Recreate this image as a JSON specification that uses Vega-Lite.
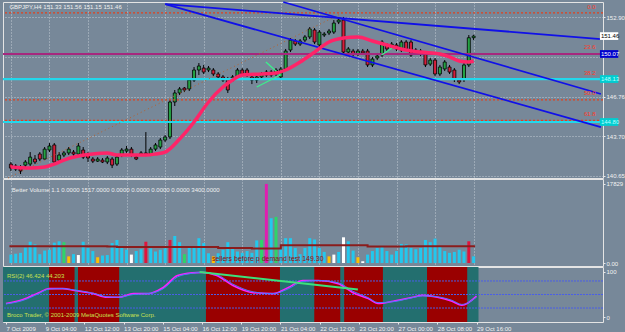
{
  "$schema": "https://vega.github.io/schema/vega-lite/v6.json",
  "background": "#778899",
  "padding": {"left": 1, "top": 0, "right": 0, "bottom": 0},
  "spacing": 1,
  "bounds": "flush",
  "resolve": {"scale": {"color": "independent"}},
  "config": {
    "font": "Liberation Sans",
    "view": {"stroke": "#e4e4e4", "strokeWidth": 1, "fill": "#778899"},
    "axis": {"labelFont": "Liberation Sans", "labelFontSize": 6, "labelColor": "#f2f2f2", "gridColor": "#d6dce2", "gridDash": [1, 2], "gridOpacity": 0.8, "domain": false, "tickColor": "#e8e8e8", "tickSize": 2, "labelPadding": 1, "title": null}
  },
  "datasets": {
    "candles": [
      {"i":0,"o":141.54,"h":141.70,"l":141.00,"c":141.23},{"i":1,"o":141.15,"h":141.54,"l":141.00,"c":141.39},{"i":2,"o":141.31,"h":141.46,"l":140.77,"c":141.00},{"i":3,"o":141.46,"h":141.85,"l":141.31,"c":141.70},{"i":4,"o":141.54,"h":142.47,"l":141.39,"c":142.08},{"i":5,"o":141.93,"h":142.24,"l":141.54,"c":141.70},{"i":6,"o":142.32,"h":142.47,"l":141.77,"c":141.93},{"i":7,"o":141.93,"h":142.86,"l":141.85,"c":142.70},{"i":8,"o":142.63,"h":143.17,"l":142.47,"c":142.94},{"i":9,"o":143.02,"h":143.17,"l":141.62,"c":141.70},
      {"i":10,"o":141.85,"h":142.47,"l":141.70,"c":142.24},{"i":11,"o":142.24,"h":142.55,"l":142.08,"c":142.40},{"i":12,"o":142.40,"h":142.86,"l":142.24,"c":142.70},{"i":13,"o":142.47,"h":142.63,"l":142.08,"c":142.32},{"i":14,"o":142.32,"h":143.17,"l":142.16,"c":142.94},{"i":15,"o":142.63,"h":142.86,"l":141.93,"c":142.08},{"i":16,"o":142.32,"h":142.47,"l":141.70,"c":142.01},{"i":17,"o":141.93,"h":142.08,"l":141.62,"c":141.77},{"i":18,"o":141.77,"h":142.08,"l":141.70,"c":141.93},{"i":19,"o":141.85,"h":142.01,"l":141.62,"c":141.70},
      {"i":20,"o":141.70,"h":142.16,"l":141.54,"c":142.01},{"i":21,"o":141.93,"h":142.08,"l":141.23,"c":141.46},{"i":22,"o":141.54,"h":142.24,"l":141.39,"c":142.08},{"i":23,"o":142.24,"h":142.78,"l":142.08,"c":142.63},{"i":24,"o":142.55,"h":142.94,"l":142.40,"c":142.70},{"i":25,"o":142.70,"h":142.86,"l":142.08,"c":142.24},{"i":26,"o":142.08,"h":142.24,"l":141.85,"c":141.93},{"i":27,"o":142.32,"h":142.55,"l":142.24,"c":142.40},{"i":28,"o":142.40,"h":144.02,"l":142.16,"c":142.32},{"i":29,"o":142.32,"h":142.86,"l":142.16,"c":142.70},
      {"i":30,"o":142.70,"h":143.17,"l":142.55,"c":143.02},{"i":31,"o":142.86,"h":143.56,"l":142.70,"c":143.40},{"i":32,"o":143.40,"h":143.79,"l":143.25,"c":143.64},{"i":33,"o":143.64,"h":146.50,"l":143.48,"c":146.35},{"i":34,"o":146.35,"h":147.28,"l":146.04,"c":147.05},{"i":35,"o":147.05,"h":147.51,"l":146.89,"c":147.36},{"i":36,"o":147.43,"h":147.51,"l":147.12,"c":147.28},{"i":37,"o":147.36,"h":148.21,"l":147.20,"c":148.05},{"i":38,"o":148.05,"h":149.06,"l":147.90,"c":148.83},{"i":39,"o":148.83,"h":149.37,"l":148.44,"c":149.14},
      {"i":40,"o":148.98,"h":149.22,"l":148.52,"c":148.67},{"i":41,"o":148.83,"h":149.14,"l":148.67,"c":148.98},{"i":42,"o":148.83,"h":148.98,"l":148.36,"c":148.52},{"i":43,"o":148.52,"h":148.67,"l":148.13,"c":148.29},{"i":44,"o":148.29,"h":148.44,"l":147.90,"c":148.05},{"i":45,"o":148.13,"h":148.29,"l":147.05,"c":147.28},{"i":46,"o":148.05,"h":148.44,"l":147.90,"c":148.29},{"i":47,"o":148.29,"h":148.98,"l":148.13,"c":148.83},{"i":48,"o":148.83,"h":148.98,"l":148.36,"c":148.52},{"i":49,"o":148.83,"h":148.98,"l":148.29,"c":148.52},
      {"i":50,"o":148.29,"h":148.44,"l":147.74,"c":148.05},{"i":51,"o":148.05,"h":148.44,"l":147.82,"c":148.29},{"i":52,"o":148.29,"h":148.67,"l":148.13,"c":148.52},{"i":53,"o":148.67,"h":148.83,"l":148.29,"c":148.44},{"i":54,"o":148.44,"h":148.83,"l":148.29,"c":148.67},{"i":55,"o":148.52,"h":148.98,"l":148.36,"c":148.83},{"i":56,"o":148.29,"h":149.06,"l":148.13,"c":148.91},{"i":57,"o":148.91,"h":150.46,"l":148.75,"c":150.30},{"i":58,"o":150.38,"h":151.31,"l":150.22,"c":151.15},{"i":59,"o":151.08,"h":151.23,"l":150.69,"c":150.84},
      {"i":60,"o":150.84,"h":151.23,"l":150.69,"c":151.08},{"i":61,"o":151.15,"h":151.54,"l":151.00,"c":151.39},{"i":62,"o":151.39,"h":152.16,"l":151.23,"c":152.01},{"i":63,"o":151.93,"h":152.08,"l":150.84,"c":151.00},{"i":64,"o":150.77,"h":151.93,"l":150.61,"c":151.77},{"i":65,"o":151.54,"h":151.77,"l":151.39,"c":151.62},{"i":66,"o":151.70,"h":152.01,"l":151.54,"c":151.85},{"i":67,"o":151.77,"h":152.70,"l":151.62,"c":152.47},{"i":68,"o":152.55,"h":152.94,"l":152.39,"c":152.70},{"i":69,"o":152.70,"h":152.94,"l":150.07,"c":150.22},
      {"i":70,"o":150.22,"h":150.61,"l":150.07,"c":150.46},{"i":71,"o":150.30,"h":150.46,"l":149.91,"c":150.07},{"i":72,"o":150.07,"h":150.46,"l":149.91,"c":150.30},{"i":73,"o":150.30,"h":150.46,"l":149.99,"c":150.15},{"i":74,"o":150.30,"h":150.46,"l":149.06,"c":149.22},{"i":75,"o":149.22,"h":149.84,"l":149.06,"c":149.68},{"i":76,"o":149.76,"h":150.15,"l":149.60,"c":149.91},{"i":77,"o":149.99,"h":151.15,"l":149.84,"c":151.00},{"i":78,"o":150.77,"h":150.92,"l":150.30,"c":150.46},{"i":79,"o":150.61,"h":151.00,"l":150.46,"c":150.84},
      {"i":80,"o":150.77,"h":150.92,"l":150.30,"c":150.46},{"i":81,"o":150.38,"h":151.15,"l":150.22,"c":151.00},{"i":82,"o":151.00,"h":151.15,"l":150.30,"c":150.46},{"i":83,"o":151.00,"h":151.15,"l":149.84,"c":149.99},{"i":84,"o":150.22,"h":150.53,"l":150.07,"c":150.38},{"i":85,"o":150.30,"h":150.46,"l":149.91,"c":150.07},{"i":86,"o":150.07,"h":150.22,"l":149.06,"c":149.22},{"i":87,"o":149.29,"h":149.76,"l":149.14,"c":149.60},{"i":88,"o":149.60,"h":149.76,"l":148.36,"c":148.52},{"i":89,"o":148.52,"h":149.22,"l":148.36,"c":149.06},
      {"i":90,"o":148.91,"h":149.60,"l":148.75,"c":149.45},{"i":91,"o":149.06,"h":149.22,"l":148.52,"c":148.67},{"i":92,"o":148.83,"h":148.98,"l":147.90,"c":148.13},{"i":93,"o":148.05,"h":148.21,"l":147.74,"c":147.90},{"i":94,"o":148.13,"h":149.37,"l":147.90,"c":149.22},{"i":95,"o":149.22,"h":151.54,"l":149.06,"c":151.33},{"i":96,"o":151.33,"h":151.56,"l":151.15,"c":151.46}
    ],
    "ma": [
      {"i":0,"p":141.31},{"i":4,"p":141.23},{"i":7,"p":141.31},{"i":9,"p":141.54},{"i":11,"p":141.85},{"i":14,"p":142.16},{"i":17,"p":142.32},{"i":20,"p":142.40},{"i":22,"p":142.24},{"i":25,"p":142.24},{"i":28,"p":142.24},{"i":30,"p":142.32},{"i":32,"p":142.47},{"i":35,"p":143.48},{"i":38,"p":144.80},{"i":41,"p":146.35},{"i":44,"p":147.51},{"i":46,"p":148.05},{"i":48,"p":148.44},{"i":52,"p":148.52},{"i":55,"p":148.60},{"i":57,"p":148.83},{"i":60,"p":149.45},{"i":63,"p":150.22},{"i":66,"p":151.00},{"i":69,"p":151.31},{"i":72,"p":151.39},{"i":75,"p":151.08},{"i":78,"p":150.77},{"i":81,"p":150.46},{"i":85,"p":150.22},{"i":89,"p":150.07},{"i":91,"p":149.84},{"i":93,"p":149.53},{"i":95,"p":149.45},{"i":96,"p":149.53}
    ],
    "fib": [
      {"p":153.25,"lab":"0.0","lp":153.50},{"p":150.07,"lab":"23.6","lp":150.36},{"p":148.10,"lab":"38.2","lp":148.40},{"p":146.51,"lab":"50.0","lp":146.80},{"p":144.92,"lab":"61.8","lp":145.20}
    ],
    "hl": [
      {"p":150.07,"kind":"purple"},{"p":148.13,"kind":"cyan"},{"p":144.80,"kind":"cyan"}
    ],
    "trend": [
      {"x1":32.0,"p1":153.94,"x2":122.4,"p2":151.23},
      {"x1":32.0,"p1":153.94,"x2":122.4,"p2":144.41},
      {"x1":56.5,"p1":154.10,"x2":122.4,"p2":146.97}
    ],
    "diag": [{"x1":-0.6,"p1":140.46,"x2":68.8,"p2":153.25}],
    "arrows": [
      {"x1":52.9,"p1":149.45,"x2":55.9,"p2":148.44},
      {"x1":51.0,"p1":147.51,"x2":55.9,"p2":148.44},
      {"x1":76.9,"p1":149.99,"x2":79.4,"p2":150.61}
    ],
    "boxes": [
      {"p":151.46,"lab":"151.46","bg":"#ffffff","fg":"#000000"},
      {"p":150.07,"lab":"150.07","bg":"#0000cd","fg":"#ffffff"},
      {"p":148.13,"lab":"148.13","bg":"#00ced1","fg":"#b8ffff"},
      {"p":144.80,"lab":"144.80","bg":"#00ced1","fg":"#b8ffff"}
    ],
    "vol": [
      {"i":0,"v":1900,"t":"n"},{"i":1,"v":2100,"t":"n"},{"i":2,"v":2300,"t":"n"},{"i":3,"v":3500,"t":"n"},{"i":4,"v":4800,"t":"n"},{"i":5,"v":4200,"t":"n"},{"i":6,"v":2000,"t":"n"},{"i":7,"v":2800,"t":"n"},{"i":8,"v":3000,"t":"n"},{"i":9,"v":4600,"t":"n"},
      {"i":10,"v":4900,"t":"n"},{"i":11,"v":4700,"t":"g"},{"i":12,"v":1500,"t":"y"},{"i":13,"v":2000,"t":"n"},{"i":14,"v":1800,"t":"w"},{"i":15,"v":4800,"t":"n"},{"i":16,"v":3400,"t":"n"},{"i":17,"v":2700,"t":"n"},{"i":18,"v":1300,"t":"y"},{"i":19,"v":1700,"t":"n"},
      {"i":20,"v":1800,"t":"n"},{"i":21,"v":4500,"t":"n"},{"i":22,"v":5200,"t":"n"},{"i":23,"v":3500,"t":"n"},{"i":24,"v":3000,"t":"n"},{"i":25,"v":1900,"t":"w"},{"i":26,"v":2700,"t":"n"},{"i":27,"v":3100,"t":"n"},{"i":28,"v":4800,"t":"r"},{"i":29,"v":3300,"t":"n"},
      {"i":30,"v":2600,"t":"n"},{"i":31,"v":3000,"t":"n"},{"i":32,"v":3300,"t":"n"},{"i":33,"v":5200,"t":"r"},{"i":34,"v":6100,"t":"n"},{"i":35,"v":4700,"t":"n"},{"i":36,"v":2000,"t":"g"},{"i":37,"v":3400,"t":"n"},{"i":38,"v":3400,"t":"n"},{"i":39,"v":5600,"t":"n"},
      {"i":40,"v":4500,"t":"n"},{"i":41,"v":2200,"t":"n"},{"i":42,"v":1500,"t":"y"},{"i":43,"v":2200,"t":"n"},{"i":44,"v":3000,"t":"n"},{"i":45,"v":4700,"t":"n"},{"i":46,"v":3400,"t":"n"},{"i":47,"v":2600,"t":"n"},{"i":48,"v":2300,"t":"n"},{"i":49,"v":2700,"t":"n"},
      {"i":50,"v":2300,"t":"n"},{"i":51,"v":5100,"t":"n"},{"i":52,"v":5200,"t":"g"},{"i":53,"v":17829,"t":"m"},{"i":54,"v":10100,"t":"n"},{"i":55,"v":10400,"t":"g"},{"i":56,"v":3400,"t":"n"},{"i":57,"v":5600,"t":"n"},{"i":58,"v":5600,"t":"n"},{"i":59,"v":3400,"t":"n"},
      {"i":60,"v":2000,"t":"n"},{"i":61,"v":3400,"t":"n"},{"i":62,"v":5600,"t":"n"},{"i":63,"v":5300,"t":"n"},{"i":64,"v":3400,"t":"n"},{"i":65,"v":2500,"t":"n"},{"i":66,"v":1500,"t":"y"},{"i":67,"v":1900,"t":"w"},{"i":68,"v":2500,"t":"n"},{"i":69,"v":5800,"t":"w"},
      {"i":70,"v":4900,"t":"n"},{"i":71,"v":2800,"t":"n"},{"i":72,"v":1300,"t":"y"},{"i":73,"v":400,"t":"w"},{"i":74,"v":1900,"t":"n"},{"i":75,"v":2700,"t":"n"},{"i":76,"v":3400,"t":"n"},{"i":77,"v":3800,"t":"n"},{"i":78,"v":2700,"t":"n"},{"i":79,"v":1900,"t":"n"},
      {"i":80,"v":2700,"t":"n"},{"i":81,"v":4300,"t":"n"},{"i":82,"v":4200,"t":"n"},{"i":83,"v":3400,"t":"n"},{"i":84,"v":3100,"t":"n"},{"i":85,"v":3400,"t":"n"},{"i":86,"v":5200,"t":"n"},{"i":87,"v":4700,"t":"n"},{"i":88,"v":5500,"t":"n"},{"i":89,"v":3800,"t":"n"},
      {"i":90,"v":2700,"t":"n"},{"i":91,"v":2300,"t":"n"},{"i":92,"v":2500,"t":"n"},{"i":93,"v":3000,"t":"n"},{"i":94,"v":2600,"t":"n"},{"i":95,"v":4900,"t":"r"},{"i":96,"v":1500,"t":"n"}
    ],
    "volavg": [
      {"i":-0.3,"v":3800},{"i":20,"v":3700},{"i":22,"v":3600},{"i":42,"v":3600},{"i":43,"v":3400},{"i":50,"v":3300},{"i":56,"v":4000},{"i":74,"v":3700},{"i":82,"v":3800},{"i":96.3,"v":3800}
    ],
    "rsibg": [
      {"a":-0.6,"b":96.4,"k":"t"},
      {"a":8.8,"b":14.0,"k":"r"},{"a":14.7,"b":23.1,"k":"r"},{"a":40.8,"b":55.9,"k":"r"},{"a":62.9,"b":68.2,"k":"r"},{"a":69.0,"b":76.9,"k":"r"},{"a":85.9,"b":94.1,"k":"r"}
    ],
    "rsi": [
      {"i":0,"r":30},{"i":3.5,"r":39},{"i":6.7,"r":54},{"i":8.8,"r":63},{"i":11.6,"r":63},{"i":14,"r":59},{"i":17.8,"r":52},{"i":20.6,"r":44},{"i":23,"r":44},{"i":26,"r":52},{"i":29,"r":52},{"i":32,"r":65},{"i":35,"r":92},{"i":38,"r":98},{"i":40,"r":99},{"i":43,"r":92},{"i":46.3,"r":70},{"i":50.4,"r":54},{"i":54.5,"r":52},{"i":57.5,"r":65},{"i":60.6,"r":81},{"i":63.7,"r":81},{"i":67.8,"r":74},{"i":70.8,"r":54},{"i":73.9,"r":41},{"i":75.9,"r":30},{"i":79,"r":35},{"i":83,"r":44},{"i":85,"r":48},{"i":88,"r":44},{"i":91,"r":35},{"i":93,"r":26},{"i":96,"r":46.4}
    ],
    "rsisig": [
      {"i":0,"r":29},{"i":3.5,"r":37},{"i":6.7,"r":52},{"i":8.8,"r":62},{"i":11.6,"r":63},{"i":14,"r":60},{"i":17.8,"r":53},{"i":20.6,"r":45},{"i":23,"r":44},{"i":26,"r":50},{"i":29,"r":52},{"i":32,"r":62},{"i":35,"r":89},{"i":38,"r":97},{"i":40,"r":99},{"i":43,"r":94},{"i":46.3,"r":73},{"i":50.4,"r":56},{"i":54.5,"r":52},{"i":57.5,"r":62},{"i":60.6,"r":79},{"i":63.7,"r":81},{"i":67.8,"r":76},{"i":70.8,"r":57},{"i":73.9,"r":43},{"i":75.9,"r":32},{"i":79,"r":34},{"i":83,"r":43},{"i":85,"r":47},{"i":88,"r":45},{"i":91,"r":37},{"i":93,"r":28},{"i":96,"r":44.2}
    ],
    "rsitl": [{"x1":39.5,"r1":100,"x2":71.8,"r2":61}],
    "rsilev": [{"r":80},{"r":50},{"r":20}]
  },
  "vconcat": [
    {
      "width": 600, "height": 176,
      "layer": [
        {"data": {"name": "candles"}, "mark": {"type": "rule", "color": "#000000", "strokeWidth": 1},
         "encoding": {"x": {"field": "i", "type": "quantitative", "scale": {"domain": [-0.6, 121.8], "nice": false, "zero": false},
             "axis": {"values": [0,8,16,24,32,40,48,56,64,72,80,88,96], "labels": false, "ticks": false, "grid": true}},
           "y": {"field": "l", "type": "quantitative", "scale": {"domain": [140.46, 154.1], "nice": false, "zero": false},
             "axis": {"orient": "right", "values": [140.65,142.20,143.70,145.20,146.76,148.30,149.83,151.37,152.90], "labelExpr": "(datum.value > 148 && datum.value < 152) ? '' : format(datum.value, '.2f')", "grid": true}},
           "y2": {"field": "h"}}},
        {"data": {"name": "candles"}, "mark": {"type": "bar", "size": 3, "stroke": "#000000", "strokeWidth": 0.8},
         "encoding": {"x": {"field": "i", "type": "quantitative"}, "y": {"field": "o", "type": "quantitative"}, "y2": {"field": "c"},
           "color": {"condition": {"test": "datum.c >= datum.o", "value": "#25a244"}, "value": "#d61f3c"}}},
        {"data": {"name": "fib"}, "mark": {"type": "rule", "color": "#e2401c", "strokeWidth": 1.2, "strokeDash": [2, 2]},
         "encoding": {"y": {"field": "p", "type": "quantitative"}}},
        {"data": {"name": "hl"}, "mark": {"type": "rule", "strokeWidth": 2.2},
         "encoding": {"y": {"field": "p", "type": "quantitative"},
           "color": {"field": "kind", "type": "nominal", "scale": {"domain": ["purple", "cyan"], "range": ["#a6287e", "#22d8ec"]}, "legend": null}}},
        {"data": {"name": "diag"}, "mark": {"type": "rule", "color": "#b8602c", "strokeWidth": 1, "strokeDash": [1, 3]},
         "encoding": {"x": {"field": "x1", "type": "quantitative"}, "y": {"field": "p1", "type": "quantitative"}, "x2": {"field": "x2"}, "y2": {"field": "p2"}}},
        {"data": {"name": "trend"}, "mark": {"type": "rule", "color": "#1010e8", "strokeWidth": 1.8},
         "encoding": {"x": {"field": "x1", "type": "quantitative"}, "y": {"field": "p1", "type": "quantitative"}, "x2": {"field": "x2"}, "y2": {"field": "p2"}}},
        {"data": {"name": "arrows"}, "mark": {"type": "rule", "color": "#3cf08c", "strokeWidth": 1.3},
         "encoding": {"x": {"field": "x1", "type": "quantitative"}, "y": {"field": "p1", "type": "quantitative"}, "x2": {"field": "x2"}, "y2": {"field": "p2"}}},
        {"data": {"name": "ma"}, "mark": {"type": "line", "color": "#ff2468", "strokeWidth": 3.5, "interpolate": "monotone"},
         "encoding": {"x": {"field": "i", "type": "quantitative"}, "y": {"field": "p", "type": "quantitative"}}},
        {"data": {"name": "fib"}, "mark": {"type": "text", "color": "#ff3a2a", "fontSize": 6, "align": "right", "baseline": "bottom"},
         "encoding": {"x": {"datum": 121.3, "type": "quantitative"}, "y": {"field": "lp", "type": "quantitative"}, "text": {"field": "lab"}}},
        {"data": {"values": [{"x": -0.3, "p": 153.75, "t": "GBPJPY,H4  151.33 151.56 151.15 151.46"}]},
         "mark": {"type": "text", "color": "#f0f0f0", "fontSize": 6, "align": "left", "baseline": "middle"},
         "encoding": {"x": {"field": "x", "type": "quantitative"}, "y": {"field": "p", "type": "quantitative"}, "text": {"field": "t"}}},
        {"data": {"name": "boxes"}, "transform": [{"calculate": "datum.p - 0.3", "as": "pa"}, {"calculate": "datum.p + 0.3", "as": "pb"}],
         "mark": {"type": "rect", "clip": false},
         "encoding": {"x": {"datum": 122.2, "type": "quantitative"}, "x2": {"datum": 126.0}, "y": {"field": "pa", "type": "quantitative"}, "y2": {"field": "pb"},
           "color": {"field": "bg", "type": "nominal", "scale": null}}},
        {"data": {"name": "boxes"}, "mark": {"type": "text", "clip": false, "fontSize": 6, "align": "left", "baseline": "middle", "dx": 1},
         "encoding": {"x": {"datum": 122.2, "type": "quantitative"}, "y": {"field": "p", "type": "quantitative"}, "text": {"field": "lab"},
           "color": {"field": "fg", "type": "nominal", "scale": null}}}
      ]
    },
    {
      "width": 600, "height": 87,
      "layer": [
        {"data": {"name": "vol"}, "mark": {"type": "bar", "size": 3},
         "encoding": {"x": {"field": "i", "type": "quantitative", "scale": {"domain": [-0.6, 121.8], "nice": false, "zero": false},
             "axis": {"values": [0,8,16,24,32,40,48,56,64,72,80,88,96], "labels": false, "ticks": false, "grid": true}},
           "y": {"field": "v", "type": "quantitative", "scale": {"domain": [-670, 18944], "nice": false},
             "axis": {"orient": "right", "values": [0, 17829], "labelExpr": "datum.value == 0 ? '0.00' : '17829'", "grid": false}},
           "color": {"field": "t", "type": "nominal", "legend": null,
             "scale": {"domain": ["n", "g", "y", "w", "r", "m"], "range": ["#22c8ee", "#2ed46a", "#ffc000", "#ffffff", "#e0143c", "#e01eb0"]}}}},
        {"data": {"name": "volavg"}, "mark": {"type": "line", "color": "#8a1c1c", "strokeWidth": 2, "interpolate": "step-after"},
         "encoding": {"x": {"field": "i", "type": "quantitative"}, "y": {"field": "v", "type": "quantitative"}}},
        {"data": {"values": [{"x": 0.2, "v": 16500, "t": "Better Volume 1.1 0.0000 1517.0000 0.0000 0.0000 0.0000 0.0000 3400.0000"}]},
         "mark": {"type": "text", "color": "#f0f0f0", "fontSize": 6, "align": "left", "baseline": "middle"},
         "encoding": {"x": {"field": "x", "type": "quantitative"}, "y": {"field": "v", "type": "quantitative"}, "text": {"field": "t"}}},
        {"data": {"values": [{"x": 41.7, "v": 800, "t": "sellers before p  demand test 149.30"}]},
         "mark": {"type": "text", "color": "#8b1010", "fontSize": 7, "align": "left", "baseline": "middle"},
         "encoding": {"x": {"field": "x", "type": "quantitative"}, "y": {"field": "v", "type": "quantitative"}, "text": {"field": "t"}}}
      ]
    },
    {
      "width": 600, "height": 55,
      "layer": [
        {"data": {"name": "rsibg"}, "mark": {"type": "rect"},
         "encoding": {"x": {"field": "a", "type": "quantitative", "scale": {"domain": [-0.6, 121.8], "nice": false, "zero": false},
             "axis": {"values": [0,8,16,24,32,40,48,56,64,72,80,88,96], "grid": true, "labelAlign": "left", "labelPadding": 1, "labelFontSize": 6,
               "labelExpr": "['7 Oct 2009','9 Oct 04:00','12 Oct 12:00','13 Oct 20:00','15 Oct 04:00','16 Oct 12:00','19 Oct 20:00','21 Oct 04:00','22 Oct 12:00','23 Oct 20:00','27 Oct 00:00','28 Oct 08:00','29 Oct 16:00'][round(datum.value/8)]"}},
           "x2": {"field": "b"},
           "y": {"datum": -11, "type": "quantitative", "scale": {"domain": [-11, 111], "nice": false, "zero": false},
             "axis": {"orient": "right", "values": [0, 20, 50, 80, 100], "grid": false}},
           "y2": {"datum": 111},
           "color": {"field": "k", "type": "nominal", "legend": null, "scale": {"domain": ["t", "r"], "range": ["#236f6f", "#9a0000"]}}}},
        {"data": {"name": "rsilev"}, "mark": {"type": "rule", "color": "#4a5ee8", "strokeWidth": 1, "strokeDash": [2, 1]},
         "encoding": {"y": {"field": "r", "type": "quantitative"}}},
        {"data": {"name": "rsi"}, "mark": {"type": "line", "color": "#ff20ff", "strokeWidth": 1.6, "interpolate": "monotone"},
         "encoding": {"x": {"field": "i", "type": "quantitative"}, "y": {"field": "r", "type": "quantitative"}}},
        {"data": {"name": "rsisig"}, "mark": {"type": "line", "color": "#4a78ff", "strokeWidth": 1, "interpolate": "monotone"},
         "encoding": {"x": {"field": "i", "type": "quantitative"}, "y": {"field": "r", "type": "quantitative"}}},
        {"data": {"name": "rsitl"}, "mark": {"type": "rule", "color": "#3ce07a", "strokeWidth": 2},
         "encoding": {"x": {"field": "x1", "type": "quantitative"}, "y": {"field": "r1", "type": "quantitative"}, "x2": {"field": "x2"}, "y2": {"field": "r2"}}},
        {"data": {"values": [{"x": 0.2, "r": 92, "t": "RSI(2) 46.424 44.203"}, {"x": 0.2, "r": 5, "t": "Broco Trader, © 2001-2009 MetaQuotes Software Corp."}]},
         "mark": {"type": "text", "color": "#c8e050", "fontSize": 6, "align": "left", "baseline": "middle"},
         "encoding": {"x": {"field": "x", "type": "quantitative"}, "y": {"field": "r", "type": "quantitative"}, "text": {"field": "t"}}}
      ]
    }
  ]
}
